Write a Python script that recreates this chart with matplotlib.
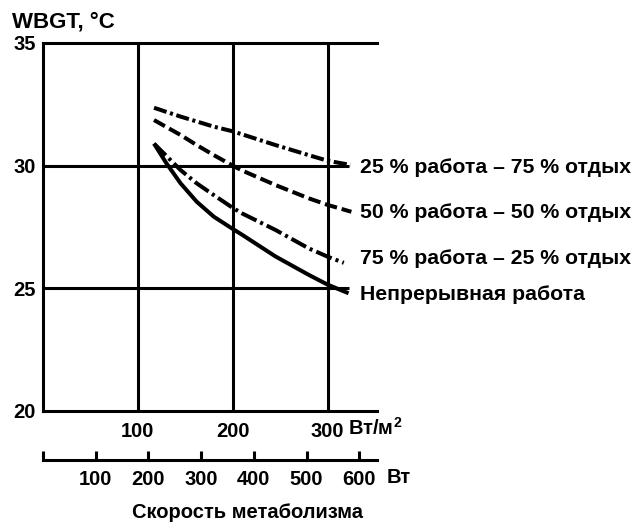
import matplotlib
matplotlib.use("Agg")
import matplotlib.pyplot as plt
import matplotlib.transforms as mtransforms

plt.rcParams['font.family'] = ['Liberation Sans', 'DejaVu Sans']
plt.rcParams['font.weight'] = 'bold'
plt.rcParams['mathtext.fontset'] = 'custom'
plt.rcParams['mathtext.rm'] = 'Liberation Sans:bold'
plt.rcParams['mathtext.bf'] = 'Liberation Sans:bold'
plt.rcParams['mathtext.it'] = 'Liberation Sans:bold'
plt.rcParams['lines.scale_dashes'] = False

# Data (metabolic rate in W/m^2, WBGT in °C)
x_25 = [117, 145, 180, 200, 245, 280, 300, 324]
y_25 = [32.36, 32.0, 31.59, 31.4, 30.84, 30.43, 30.2, 30.03]
x_50 = [117, 145, 162, 180, 200, 210, 245, 280, 300, 325]
y_50 = [31.86, 31.25, 30.84, 30.43, 30.0, 29.8, 29.21, 28.67, 28.4, 28.12]
x_75 = [117, 145, 162, 180, 200, 210, 245, 280, 300, 317]
y_75 = [30.9, 29.82, 29.28, 28.8, 28.28, 28.05, 27.38, 26.63, 26.29, 26.04]
x_cont = [117, 130, 145, 162, 180, 200, 210, 245, 280, 300, 322]
y_cont = [30.9, 30.1, 29.28, 28.53, 27.92, 27.42, 27.18, 26.3, 25.55, 25.15, 24.8]

labels = ["25 % работа – 75 % отдых", "50 % работа – 50 % отдых",
          "75 % работа – 25 % отдых", "Непрерывная работа"]
label_y = [29.94, 28.11, 26.23, 24.73]

y_ticks = [20, 25, 30, 35]
x_ticks = [100, 200, 300]
w_ticks = [0, 100, 200, 300, 400, 500, 600]
w_tick_labels = ["", "100", "200", "300", "400", "500", "600"]
area = 1.8  # m^2, body surface area

FS = 14.5
GW = 2.2
X_MAX = 352
INNER_GRID_END = 322

fig = plt.figure(figsize=(6.38, 5.22), dpi=100)
ax = fig.add_axes([43/638, 1-411/522, 334/638, 368/522])
ax.set_xlim(0, X_MAX)
ax.set_ylim(20, 35)

for y in y_ticks[1:-1]:
    ax.hlines(y, 0, INNER_GRID_END, color='black', lw=GW, zorder=1)
ax.axhline(y_ticks[-1], color='black', lw=GW, zorder=1, clip_on=False)
for x in x_ticks:
    ax.axvline(x, color='black', lw=GW, zorder=1)

ax.spines['right'].set_visible(False)
ax.spines['top'].set_visible(False)
ax.spines['left'].set_linewidth(GW)
ax.spines['bottom'].set_linewidth(GW)

ax.set_yticks(y_ticks)
ax.set_xticks(x_ticks)
ax.tick_params(axis='both', length=0, labelsize=FS)
ax.tick_params(axis='y', pad=5)
ax.tick_params(axis='x', pad=8)

lw = 2.9
l1, = ax.plot(x_25, y_25, color='black', lw=lw, zorder=3)
l1.set_dashes([9.5, 2.6, 2.2, 2.6])
l2, = ax.plot(x_50, y_50, color='black', lw=lw, zorder=3)
l2.set_dashes([9, 3.5])
l3, = ax.plot(x_75, y_75, color='black', lw=lw, zorder=3)
l3.set_dashes([12, 3, 2.2, 3])
ax.plot(x_cont, y_cont, color='black', lw=lw, zorder=3, solid_capstyle='butt')

trans = mtransforms.blended_transform_factory(ax.transAxes, ax.transData)
for lab, yy in zip(labels, label_y):
    ax.text(0.948, yy, lab, transform=trans, ha='left', va='center',
            fontsize=15.3, clip_on=False)

ax.text(0.912, -0.046, "Вт/м$^\\mathregular{2}$", transform=ax.transAxes,
        ha='left', va='center', fontsize=FS)

sec = ax.secondary_xaxis(-0.133, functions=(lambda v: v*area, lambda v: v/area))
sec.set_xticks(w_ticks)
sec.set_xticklabels(w_tick_labels)
sec.tick_params(axis='x', direction='in', length=6.5, width=GW, labelsize=FS, pad=7)
sec.spines['bottom'].set_linewidth(GW)
ax.text(1.03, -0.182, "Вт", transform=ax.transAxes, ha='left', va='center',
        fontsize=FS)

fig.text(12/638, 1-22/522, "WBGT, °C", ha='left', va='center', fontsize=16)
fig.text(248/638, 1-512/522, "Скорость метаболизма", ha='center', va='center',
         fontsize=FS)

fig.savefig("out.png", dpi=100)
